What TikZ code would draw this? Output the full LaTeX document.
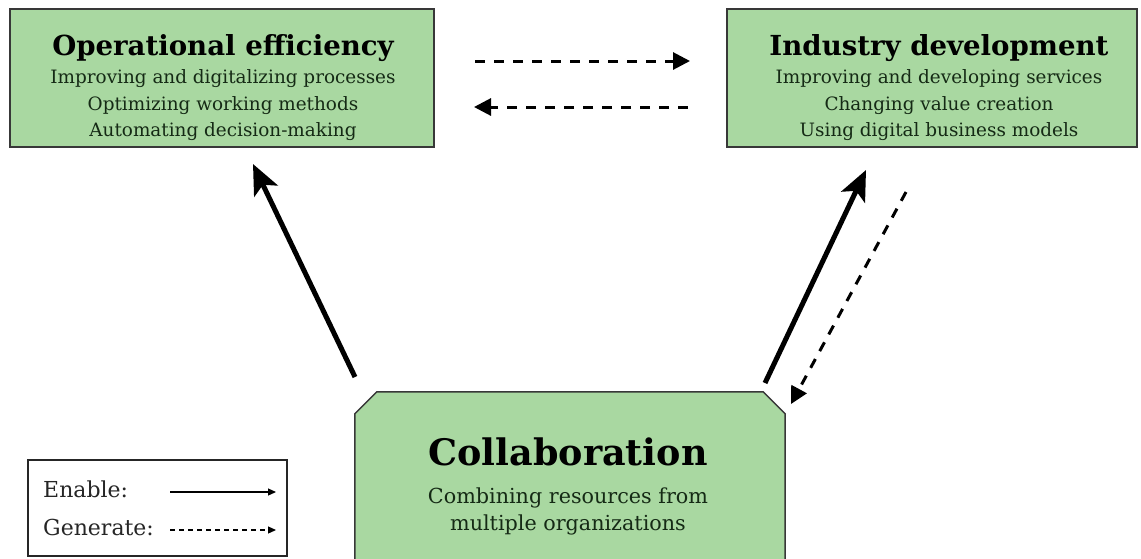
\documentclass[tikz,border=0pt]{standalone}
\usepackage{fontspec}
\setmainfont{DejaVu Serif}
\usetikzlibrary{arrows.meta}
\definecolor{boxgreen}{HTML}{A9D8A1}
\definecolor{boxline}{HTML}{383838}
\definecolor{subtext}{HTML}{152A15}
\tikzset{
  greenbox/.style={draw=boxline,line width=1.5pt,fill=boxgreen,inner sep=0pt},
  titletext/.style={anchor=base,inner sep=0pt,font=\fontsize{27.6}{32}\selectfont\bfseries,text=black},
  subline/.style={anchor=base,inner sep=0pt,font=\fontsize{18.4}{22}\selectfont,text=subtext},
  bigsubline/.style={anchor=base,inner sep=0pt,font=\fontsize{20.7}{24}\selectfont,text=subtext},
  enable/.style={line width=5pt,-{Stealth[length=30pt,width=26pt,inset=7pt]}},
  generate/.style={line width=3pt,dash pattern=on 10pt off 9pt,-{Triangle[length=17pt,width=17pt]}},
  legendtext/.style={anchor=base west,inner sep=0pt,font=\fontsize{22}{26}\selectfont,text=black!85},
  legenable/.style={line width=1.2pt,-{Triangle[length=8pt,width=7pt]}},
  leggenerate/.style={line width=1.2pt,dash pattern=on 5pt off 4pt,-{Triangle[length=8pt,width=7pt]}},
}
\begin{document}
\begin{tikzpicture}[x=1pt,y=-1pt]
\useasboundingbox (0,0) rectangle (1141,558);
% boxes
\node[greenbox,minimum width=424pt,minimum height=138pt] (op) at (222,78) {};
\node[greenbox,minimum width=410pt,minimum height=138pt] (ind) at (932,78) {};
\node[inner sep=0pt,minimum width=430pt,minimum height=220pt] (col) at (570,502) {};
\draw[greenbox] (col.south west) -- ([yshift=-22pt]col.north west) -- ([xshift=22pt]col.north west)
  -- ([xshift=-22pt]col.north east) -- ([yshift=-22pt]col.north east) -- (col.south east) -- cycle;
% texts: operational efficiency
\node[titletext] (opt) at (223,55) {Operational efficiency};
\node[subline] (op1) at (223,83) {Improving and digitalizing processes};
\node[subline] (op2) at (223,110) {Optimizing working methods};
\node[subline] (op3) at (223,136) {Automating decision-making};
% industry development
\node[titletext] (indt) at (939,55) {Industry development};
\node[subline] (ind1) at (939,83) {Improving and developing services};
\node[subline] (ind2) at (939,110) {Changing value creation};
\node[subline] (ind3) at (939,136) {Using digital business models};
% collaboration
\node[anchor=base,inner sep=0pt,font=\fontsize{36.5}{42}\selectfont\bfseries,text=black] (colt) at (568,465) {Collaboration};
\node[bigsubline] (col1) at (568,503) {Combining resources from};
\node[bigsubline] (col2) at (568,530) {multiple organizations};
% arrow end points
\coordinate (e1s) at (355,377);
\coordinate (e1e) at (253,164);
\coordinate (e2s) at (765,383);
\coordinate (e2e) at (866,170);
\coordinate (g1s) at (906,192);
\coordinate (g1e) at (791,404);
\coordinate (g2s) at (475,61);
\coordinate (g2e) at (690,61);
\coordinate (g3s) at (688,107);
\coordinate (g3e) at (474,107);
\draw[enable] (e1s) -- (e1e);
\draw[enable] (e2s) -- (e2e);
\draw[generate] (g1s) -- (g1e);
\draw[generate] (g2s) -- (g2e);
\draw[generate] (g3s) -- (g3e);
% legend
\node[draw=black!85,line width=1.3pt,minimum width=259pt,minimum height=96pt,inner sep=0pt] (leg) at (157.5,508) {};
\node[legendtext] (legE) at (43,497) {Enable:};
\node[legendtext] (legG) at (43,535) {Generate:};
\coordinate (l1s) at (170,492);
\coordinate (l1e) at (276,492);
\coordinate (l2s) at (170,530);
\coordinate (l2e) at (276,530);
\draw[legenable] (l1s) -- (l1e);
\draw[leggenerate] (l2s) -- (l2e);
\end{tikzpicture}
\end{document}
